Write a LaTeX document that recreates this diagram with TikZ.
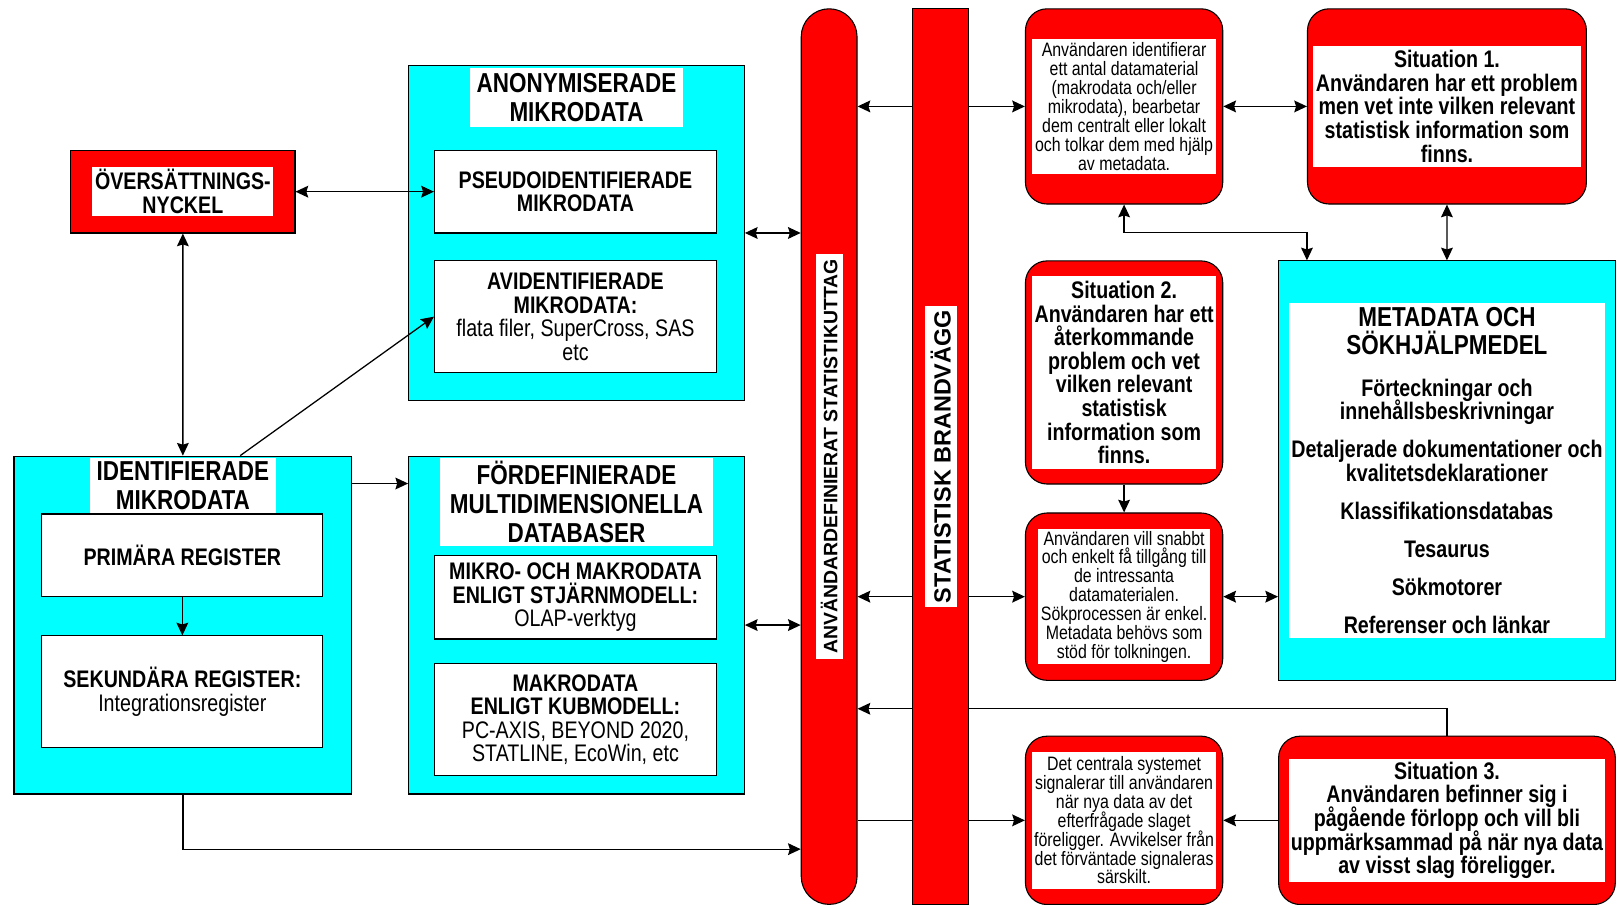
\documentclass[tikz,border=0pt]{standalone}
\usepackage{fontspec}
\setmainfont{Liberation Sans}
\newfontfamily\narrowfont[FakeStretch=0.82]{Liberation Sans}
\usetikzlibrary{arrows.meta,backgrounds}

\definecolor{signalred}{RGB}{255,0,0}
\definecolor{aqua}{RGB}{0,255,255}

\newcommand{\boxfont}{\narrowfont\bfseries\fontsize{13.2}{13.0}\selectfont\lineskiplimit=-20pt}
\newcommand{\notefont}{\narrowfont\fontsize{10.7}{10.4}\selectfont\lineskiplimit=-20pt}
\newcommand{\headfont}{\narrowfont\bfseries\fontsize{15.1}{15.9}\selectfont\lineskiplimit=-20pt}

\tikzset{
  frame/.style={draw, line width=0.6pt, inner sep=0pt, anchor=north west},
  cyanbox/.style={frame, fill=aqua},
  redbox/.style={frame, fill=signalred},
  roundbox/.style={redbox, rounded corners=0.42cm},
  whitebox/.style={frame, fill=white, align=center, font=\boxfont},
  plate/.style={fill=white, inner sep=0pt, align=center, font=\boxfont},
  tip/.tip={Stealth[length=7pt,width=6.5pt,inset=1pt]},
  sgl/.style={line width=0.7pt, -tip},
  dbl/.style={line width=0.7pt, tip-tip},
}

\begin{document}
\begin{tikzpicture}[x=0.02cm,y=-0.02cm]
            \useasboundingbox (0,0) rectangle (1568,875);%

            % Key box
            \node [redbox, minimum width=4.34cm, minimum height=1.6cm] (nyckel) at (68,145) {};%
            \node [plate, minimum width=3.5cm, minimum height=0.96cm] (nyckeltxt) at (nyckel.center) {ÖVERSÄTTNINGS-\\NYCKEL};%

            % Anonymised micro data
            \node [cyanbox, minimum width=6.5cm, minimum height=6.48cm] (anonym) at (395,63) {};%
            \node [plate, font=\headfont, anchor=north, minimum width=4.14cm, minimum height=1.16cm] (anonymtxt) at ([yshift=-0.04cm]anonym.north) {ANONYMISERADE\\MIKRODATA};%
            \node [whitebox, minimum width=5.46cm, minimum height=1.6cm] (pseudo) at (420,145) {PSEUDOIDENTIFIERADE\\MIKRODATA};%
            \node [whitebox, minimum width=5.46cm, minimum height=2.16cm] (avid) at (420,252) {AVIDENTIFIERADE\\MIKRODATA:\\\mdseries flata filer, SuperCross, SAS\\\mdseries etc};%

            % Identified micro data
            \node [cyanbox, minimum width=6.54cm, minimum height=6.54cm] (idmikro) at (13,441) {};%
            \node [plate, font=\headfont, anchor=north, minimum width=3.6cm, minimum height=1.08cm] (idmikrotxt) at ([yshift=-0.04cm]idmikro.north) {IDENTIFIERADE\\MIKRODATA};%
            \node [whitebox, minimum width=5.44cm, minimum height=1.6cm] (primar) at (40,497) {PRIMÄRA REGISTER};%
            \node [whitebox, minimum width=5.44cm, minimum height=2.16cm] (sekund) at (40,615) {SEKUNDÄRA REGISTER:\\\mdseries Integrationsregister};%

            % Predefined databases
            \node [cyanbox, minimum width=6.5cm, minimum height=6.54cm] (fordef) at (395,441) {};%
            \node [plate, font=\headfont, anchor=north, minimum width=5.28cm, minimum height=1.7cm] (fordeftxt) at ([yshift=-0.04cm]fordef.north) {FÖRDEFINIERADE\\MULTIDIMENSIONELLA\\DATABASER};%
            \node [whitebox, minimum width=5.46cm, minimum height=1.62cm] (stjarn) at (420,537) {MIKRO- OCH MAKRODATA\\ENLIGT STJÄRNMODELL:\\\mdseries OLAP-verktyg};%
            \node [whitebox, minimum width=5.46cm, minimum height=2.16cm] (kub) at (420,642) {MAKRODATA\\ENLIGT KUBMODELL:\\\mdseries PC-AXIS, BEYOND 2020,\\\mdseries STATLINE, EcoWin, etc};%

            % Connectors on the left
            \draw [dbl] (nyckel) -- (pseudo);%
            \draw [dbl] (nyckel) -- (idmikro);%
            \draw [sgl] ([xshift=1.11cm]idmikro.north) -- (avid.west);%
            \draw [sgl] ([yshift=-0.54cm]idmikro.north east) -- ([yshift=-0.54cm]fordef.north west);%
            \draw [sgl] (primar) -- (sekund);%

            % The two columns
            \node [redbox, rounded corners=0.539cm, minimum width=1.08cm, minimum height=17.34cm] (uttag) at (775,8) {};%
            \node [fill=white, inner sep=0pt, rotate=90, font=\bfseries\fontsize{10.7}{12}\selectfont, minimum width=7.84cm, minimum height=0.52cm] (uttagtxt) at (uttag.center) {ANVÄNDARDEFINIERAT STATISTIKUTTAG};%
            \node [redbox, minimum width=1.08cm, minimum height=17.34cm] (brand) at (883,8) {};%
            \node [fill=white, inner sep=0pt, rotate=90, font=\bfseries\fontsize{12.9}{14}\selectfont, minimum width=5.84cm, minimum height=0.62cm] (brandtxt) at (brand.center) {STATISTISK BRANDVÄGG};%

            \draw [dbl] (anonym.east) -- (anonym.east -| uttag.west);%
            \draw [dbl] (fordef.east) -- (fordef.east -| uttag.west);%
            \draw [sgl] (idmikro.south) |- ([yshift=1.08cm]uttag.south west);%

            % Right side boxes
            \node [roundbox, minimum width=3.82cm, minimum height=3.78cm] (ident) at (992,8) {};%
            \node [plate, font=\notefont, minimum width=3.56cm, minimum height=2.6cm] (identtxt) at (ident.center) {Användaren identifierar\\ett antal datamaterial\\(makrodata och/eller\\mikrodata), bearbetar\\dem centralt eller lokalt\\och tolkar dem med hjälp\\av metadata.};%

            \node [roundbox, minimum width=5.4cm, minimum height=3.78cm] (sit1) at (1265,8) {};%
            \node [plate, minimum width=5.2cm, minimum height=2.34cm] (sit1txt) at (sit1.center) {Situation 1.\\Användaren har ett problem\\men vet inte vilken relevant\\statistisk information som\\finns.};%

            \node [cyanbox, minimum width=6.52cm, minimum height=8.12cm] (meta) at (1237,252) {};%
            \node [plate, minimum width=6.12cm, minimum height=6.48cm] (metatxt) at (meta.center) {\headfont METADATA OCH\\[2.8pt]\headfont SÖKHJÄLPMEDEL\\[9.7pt]Förteckningar och\\innehållsbeskrivningar\\[8pt]Detaljerade dokumentationer och\\kvalitetsdeklarationer\\[8pt]Klassifikationsdatabas\\[8pt]Tesaurus\\[8pt]Sökmotorer\\[8pt]Referenser och länkar};%

            \node [roundbox, minimum width=3.82cm, minimum height=4.32cm] (sit2) at (992,252) {};%
            \node [plate, minimum width=3.56cm, minimum height=3.74cm] (sit2txt) at (sit2.center) {Situation 2.\\Användaren har ett\\återkommande\\problem och vet\\vilken relevant\\statistisk\\information som\\finns.};%

            \node [roundbox, minimum width=3.82cm, minimum height=3.24cm] (sokbox) at (992,496) {};%
            \node [plate, font=\notefont, minimum width=3.32cm, minimum height=2.62cm] (sokboxtxt) at (sokbox.center) {Användaren vill snabbt\\och enkelt få tillgång till\\de intressanta\\datamaterialen.\\Sökprocessen är enkel.\\Metadata behövs som\\stöd för tolkningen.};%

            \node [roundbox, minimum width=3.82cm, minimum height=3.26cm] (signal) at (992,712) {};%
            \node [plate, font=\notefont, minimum width=3.56cm, minimum height=2.66cm] (signaltxt) at (signal.center) {Det centrala systemet\\signalerar till användaren\\när nya data av det\\efterfrågade slaget\\föreligger. Avvikelser från\\det förväntade signaleras\\särskilt.};%

            \node [roundbox, minimum width=6.52cm, minimum height=3.26cm] (sit3) at (1237,712) {};%
            \node [plate, minimum width=6.12cm, minimum height=2.38cm] (sit3txt) at (sit3.center) {Situation 3.\\Användaren befinner sig i\\pågående förlopp och vill bli\\uppmärksammad på när nya data\\av visst slag föreligger.};%

            % Connectors on the right
            \draw [dbl] (ident) -- (sit1);%
            \draw [dbl] (ident.south) -- ++(0,27) -| ([xshift=0.56cm]meta.north west);%
            \draw [dbl] (sit1) -- (meta);%
            \draw [sgl] (sit2) -- (sokbox);%
            \draw [dbl] (sokbox.east) -- (sokbox.east -| meta.west);%
            \draw [sgl] (sit3) -- (signal);%

            % Connectors behind the firewall
            \begin{scope}[on background layer]
            \draw [dbl] (ident.west -| uttag.east) -- (ident.west);%
            \draw [dbl] (sokbox.west -| uttag.east) -- (sokbox.west);%
            \draw [sgl] (signal.west -| uttag.east) -- (signal.west);%
            \draw [sgl] (sit3.north) -- ++(0,-26) coordinate (bend) -- (bend -| uttag.east);%
            \end{scope}
\end{tikzpicture}
\end{document}
